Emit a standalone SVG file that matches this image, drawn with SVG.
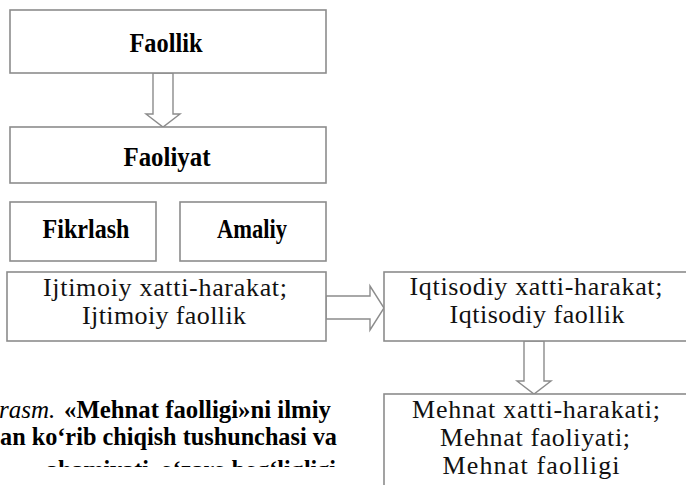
<svg xmlns="http://www.w3.org/2000/svg" width="686" height="485" viewBox="0 0 686 485">
  <style>
    .box { fill: #ffffff; stroke: #8c8c8c; stroke-width: 1.6; }
    .arrow { fill: #ffffff; stroke: #8c8c8c; stroke-width: 1.4; stroke-linejoin: miter; }
    .bold { font-family: "Liberation Serif", "Times New Roman", serif; font-weight: bold; font-size: 27px; fill: #000; text-anchor: middle; }
    .reg { font-family: "Liberation Serif", "Times New Roman", serif; font-size: 26px; fill: #111; text-anchor: middle; }
    .cap { font-family: "Liberation Serif", "Times New Roman", serif; font-weight: bold; font-size: 25px; fill: #000; }
    .capi { font-weight: normal; font-style: italic; }
  </style>
  <defs>
    <!-- the caption block is cut off through its third line -->
    <clipPath id="capClip">
      <rect x="0" y="380" width="380" height="87"/>
    </clipPath>
  </defs>
  <rect x="0" y="0" width="686" height="485" fill="#ffffff"/>

  <!-- block arrows between the boxes -->
  <g id="connectors">
    <polygon class="arrow" points="153,73 153,114 146,114 163,127 180,114 173,114 173,73"/>
    <polygon class="arrow" points="326,296 370,296 370,286 384,308 370,330 370,319 326,319"/>
    <polygon class="arrow" points="524,341 524,381 517,381 534,394 551,381 544,381 544,341"/>
  </g>

  <g id="faollik">
    <rect class="box" x="10" y="10" width="316" height="63"/>
    <text class="bold" x="166" y="52" textLength="73" lengthAdjust="spacingAndGlyphs">Faollik</text>
  </g>

  <g id="faoliyat">
    <rect class="box" x="10" y="127" width="316" height="56"/>
    <text class="bold" x="167" y="166" textLength="87" lengthAdjust="spacingAndGlyphs">Faoliyat</text>
  </g>

  <g id="fikrlash">
    <rect class="box" x="10" y="202" width="146" height="59"/>
    <text class="bold" x="86" y="238" textLength="87" lengthAdjust="spacingAndGlyphs">Fikrlash</text>
  </g>

  <g id="amaliy">
    <rect class="box" x="180" y="202" width="146" height="59"/>
    <text class="bold" x="252" y="238" textLength="70" lengthAdjust="spacingAndGlyphs">Amaliy</text>
  </g>

  <g id="ijtimoiy">
    <rect class="box" x="7" y="272" width="319" height="69"/>
    <text class="reg" x="165" y="296" textLength="244" lengthAdjust="spacing">Ijtimoiy xatti-harakat;</text>
    <text class="reg" x="164" y="324" textLength="164" lengthAdjust="spacing">Ijtimoiy faollik</text>
  </g>

  <g id="iqtisodiy">
    <rect class="box" x="384" y="272" width="306" height="69"/>
    <text class="reg" x="536" y="295" textLength="253" lengthAdjust="spacing">Iqtisodiy xatti-harakat;</text>
    <text class="reg" x="537" y="323" textLength="175" lengthAdjust="spacing">Iqtisodiy faollik</text>
  </g>

  <g id="mehnat">
    <rect class="box" x="384" y="394" width="306" height="100"/>
    <text class="reg" x="536" y="418" textLength="248" lengthAdjust="spacing">Mehnat xatti-harakati;</text>
    <text class="reg" x="535" y="446" textLength="190" lengthAdjust="spacing">Mehnat faoliyati;</text>
    <text class="reg" x="531" y="474" textLength="177" lengthAdjust="spacing">Mehnat faolligi</text>
  </g>

  <!-- figure caption, running off the left edge -->
  <g id="caption" clip-path="url(#capClip)">
    <text class="cap" x="-1" y="418"><tspan class="capi">rasm.</tspan> <tspan x="64" textLength="267" lengthAdjust="spacingAndGlyphs">«Mehnat faolligi»ni ilmiy</tspan></text>
    <text class="cap" x="0" y="445" textLength="337" lengthAdjust="spacingAndGlyphs">an ko‘rib chiqish tushunchasi va</text>
    <text class="cap" x="46" y="478" textLength="290" lengthAdjust="spacingAndGlyphs">ahamiyati, o‘zaro bog‘liqligi</text>
  </g>
</svg>
